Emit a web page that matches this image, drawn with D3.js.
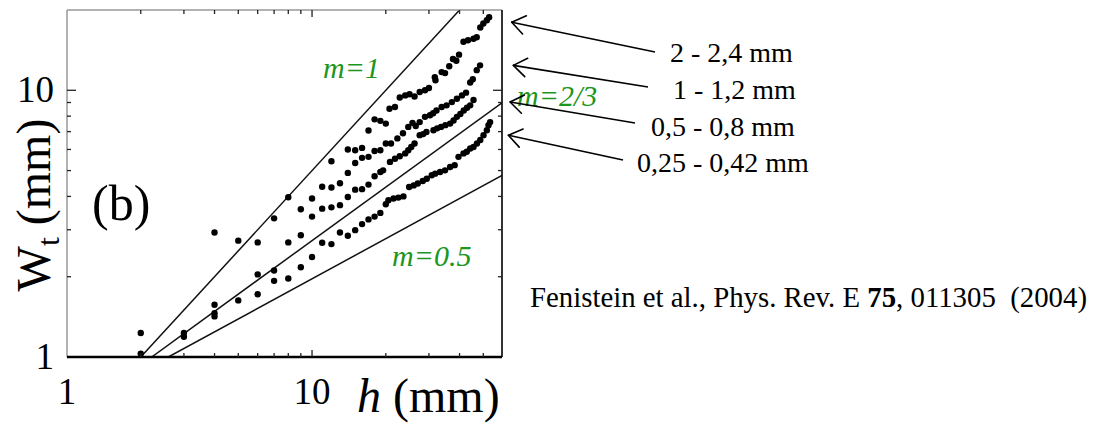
<!DOCTYPE html>
<html>
<head>
<meta charset="utf-8">
<script src="https://cdn.jsdelivr.net/npm/d3@7"></script>
<style>
  body { margin: 0; background: #fff; }
  text { font-family: "Liberation Serif", "Times New Roman", serif; }
</style>
</head>
<body>
<div id="chart"></div>
<script>
// grain sizes (legend labels)
const grainLabels = ["2 - 2,4 mm", "1 - 1,2 mm", "0,5 - 0,8 mm", "0,25 - 0,42 mm"];

// W_t (mm) vs h (mm)
const grain2mm = [
  [12, 5.42], [14, 6.0], [15, 5.96], [16, 6.08], [17, 7.07], [18, 7.78], [19, 7.68], [20, 7.5],
  [20.7, 8.53], [21.8, 8.66], [22.8, 9.4], [24, 9.57], [25, 9.66], [26.2, 9.48], [27.5, 9.85],
  [28.9, 10.0], [30, 10.2], [31.7, 11.2], [31.9, 10.9], [33.8, 11.7], [34.9, 11.6], [36.3, 12.3],
  [37.6, 13.1], [38.8, 12.9], [39.8, 13.6], [41.5, 15.2], [43.3, 15.4], [45.6, 15.6], [47, 15.8],
  [48.6, 17.2], [50, 17.8], [51.7, 18.3], [52.8, 18.8]
];
const grain1mm = [
  [2, 1.23], [4, 2.93], [5, 2.73], [6, 2.69], [7, 3.31], [8, 3.97], [9, 3.58], [10, 3.93],
  [11, 4.35], [12, 4.32], [13, 4.48], [14, 4.9], [15, 5.34], [16, 5.58], [17, 5.63], [18, 5.92],
  [19, 5.96], [20, 6.32], [21, 6.32], [22.3, 6.6], [23.5, 6.9], [24.7, 7.29], [25.7, 7.55],
  [26.5, 7.35], [27.5, 7.6], [28.9, 7.95], [30.3, 8.06], [31.2, 8.2], [32.2, 8.4], [33.8, 8.66],
  [35.4, 8.78], [37.2, 9.03], [39, 9.3], [40.9, 9.57], [42.5, 9.8], [44.2, 10.7], [45.3, 11.0],
  [47, 11.9], [48.5, 12.4]
];
const grain05mm = [
  [3, 1.23], [4, 1.57], [5, 1.63], [6, 2.04], [7, 2.11], [8, 2.69], [9, 2.86], [10, 3.36],
  [11, 3.6], [12, 3.64], [13, 3.71], [14, 3.98], [15, 4.24], [16, 4.26], [17, 4.43], [18, 4.76],
  [19, 4.94], [19.5, 5.01], [20.8, 5.39], [21.8, 5.54], [22.8, 5.66], [24, 5.8], [24.7, 5.96],
  [25.4, 6.13], [26.2, 6.32], [27.5, 6.79], [28.4, 6.85], [29.3, 6.98], [31.3, 7.08], [32.4, 7.2],
  [33.6, 7.29], [35, 7.4], [36.6, 7.5], [37.8, 7.7], [39, 7.95], [40.3, 8.15], [41.6, 8.4],
  [42.9, 8.6], [44.2, 8.78], [45.6, 9.2]
];
const grain025mm = [
  [2, 1.03], [3, 1.19], [4, 1.46], [4, 1.42], [6, 1.72], [7, 1.93], [8, 1.97], [9, 2.17],
  [10, 2.37], [11, 2.68], [12, 2.65], [13, 2.93], [14, 2.85], [15, 2.99], [16, 3.15], [17, 3.28],
  [18, 3.36], [19, 3.47], [20, 3.74], [20.5, 3.87], [21.5, 3.93], [22.5, 3.96], [23.6, 4.0],
  [24.9, 4.34], [26, 4.4], [27, 4.47], [28.3, 4.57], [29.4, 4.66], [30.8, 4.8], [31.8, 4.87],
  [33.3, 4.94], [34.9, 5.01], [36.6, 5.16], [38.2, 5.24], [39.6, 5.63], [41.5, 5.8], [42.8, 5.88],
  [44.2, 6.05], [45.6, 6.13], [47.1, 6.32], [48.6, 6.51], [50.1, 6.79], [51.7, 7.08], [52.5, 7.39],
  [53.3, 7.6]
];

// power-law guide lines W = (h / h0)^m
const slopeLabels = ["m=1", "m=2/3", "m=0.5"];
const slopes = [1, 2 / 3, 0.5];
const slopeOrigins = [2, 2.216, 2.592];

// where the arrows point (data units)
const arrowTips = [[65.3, 18.0], [66.3, 12.4], [64.3, 9.04], [63.3, 6.78]];

const xTickLabels = [1, 10];
const yTickLabels = [1, 10];
const xMinorTicks = [2, 3, 4, 5, 6, 7, 8, 9, 20, 30, 40, 50];
const yMinorTicks = [2, 3, 4, 5, 6, 7, 8, 9];

const W = 1094, H = 423;
const margin = { top: 10, right: 592, bottom: 66, left: 67 };
const width = W - margin.left - margin.right;
const height = H - margin.top - margin.bottom;
const serif = "'Liberation Serif', 'Times New Roman', serif";

const svg = d3.select("#chart")
    .append("svg")
    .attr("width", W)
    .attr("height", H)
    .attr("font-family", serif);

const g = svg.append("g")
    .attr("transform", `translate(${margin.left},${margin.top})`);

const x = d3.scaleLog().domain([1, 59.6]).range([0, width]);
const y = d3.scaleLog().domain([1, 20]).range([height, 0]);

svg.append("clipPath").attr("id", "plotclip")
  .append("rect").attr("width", width).attr("height", height);

// guide lines
slopes.forEach((m, i) => {
    const h0 = slopeOrigins[i];
    const ends = [h0, 59.6].map(h => [h, Math.pow(h / h0, m)]);
    g.append("line")
        .attr("clip-path", "url(#plotclip)")
        .attr("x1", x(ends[0][0])).attr("y1", y(ends[0][1]))
        .attr("x2", x(ends[1][0])).attr("y2", y(ends[1][1]))
        .attr("stroke", "#111")
        .attr("stroke-width", 1.5);
});

// data points
[grain2mm, grain1mm, grain05mm, grain025mm].forEach(series => {
    g.selectAll(null)
        .data(series)
        .enter()
        .append("circle")
        .attr("cx", d => x(d[0]))
        .attr("cy", d => y(d[1]))
        .attr("r", 3.2)
        .attr("fill", "#000");
});

// frame
g.append("line").attr("x1", 0).attr("x2", width).attr("y1", 0).attr("y2", 0)
    .attr("stroke", "#999").attr("stroke-width", 1.5);
g.append("line").attr("x1", 0).attr("x2", 0).attr("y1", 0).attr("y2", height)
    .attr("stroke", "#999").attr("stroke-width", 1.5);
g.append("line").attr("x1", 0).attr("x2", width).attr("y1", height).attr("y2", height)
    .attr("stroke", "#000").attr("stroke-width", 2.5);
g.append("line").attr("x1", width).attr("x2", width).attr("y1", 0).attr("y2", height)
    .attr("stroke", "#000").attr("stroke-width", 1.6);

// inward ticks on all four sides
const xt = [...xMinorTicks.map(v => [v, 4]), [10, 7]];
xt.forEach(([v, len]) => {
    g.append("line").attr("x1", x(v)).attr("x2", x(v)).attr("y1", height).attr("y2", height - len)
        .attr("stroke", "#222").attr("stroke-width", 1.3);
    g.append("line").attr("x1", x(v)).attr("x2", x(v)).attr("y1", 0).attr("y2", len)
        .attr("stroke", "#222").attr("stroke-width", 1.3);
});
const yt = [...yMinorTicks.map(v => [v, 4]), [10, 9]];
yt.forEach(([v, len]) => {
    g.append("line").attr("x1", 0).attr("x2", len).attr("y1", y(v)).attr("y2", y(v))
        .attr("stroke", "#222").attr("stroke-width", 1.3);
    g.append("line").attr("x1", width).attr("x2", width - len).attr("y1", y(v)).attr("y2", y(v))
        .attr("stroke", "#222").attr("stroke-width", 1.3);
});

// tick labels
g.selectAll(".xlab").data(xTickLabels).enter().append("text")
    .attr("x", d => x(d)).attr("y", height + 47)
    .attr("text-anchor", "middle").attr("font-size", 37).text(d => d);
g.selectAll(".ylab").data(yTickLabels).enter().append("text")
    .attr("x", -13).attr("y", d => y(d) + 12)
    .attr("text-anchor", "end").attr("font-size", 37).text(d => d);

// axis titles
const xt2 = g.append("text").attr("x", 290).attr("y", height + 55).attr("font-size", 48);
xt2.append("tspan").attr("font-style", "italic").text("h");
xt2.append("tspan").text(" (mm)");

const yt2 = svg.append("text")
    .attr("transform", "translate(50,205) rotate(-90)")
    .attr("text-anchor", "middle").attr("font-size", 48);
yt2.append("tspan").text("W");
yt2.append("tspan").attr("font-size", 32).attr("dy", 9).text("t");
yt2.append("tspan").attr("dy", -9).text(" (mm)");

// panel tag
svg.append("text").attr("x", 92).attr("y", 220).attr("font-size", 50).text("(b)");

// slope labels
const slopePos = [[323, 78], [517, 106], [392, 266]];
slopeLabels.forEach((s, i) => {
    svg.append("text").attr("x", slopePos[i][0]).attr("y", slopePos[i][1])
        .attr("font-size", 30).attr("font-style", "italic")
        .attr("fill", "#1c961c").text(s);
});

// grain-size labels and arrows
const labelPos = [[670, 62], [673, 99], [651, 136], [637, 172]];
const tails = [[655, 52], [648, 87], [635, 123], [623, 160]];
grainLabels.forEach((s, i) => {
    svg.append("text").attr("x", labelPos[i][0]).attr("y", labelPos[i][1])
        .attr("font-size", 28).text(s);
    const tx = margin.left + x(arrowTips[i][0]);
    const ty = margin.top + y(arrowTips[i][1]);
    const [sx, sy] = tails[i];
    svg.append("line").attr("x1", sx).attr("y1", sy).attr("x2", tx).attr("y2", ty)
        .attr("stroke", "#000").attr("stroke-width", 1.6);
    const ang = Math.atan2(sy - ty, sx - tx);
    [-0.62, 0.62].forEach(da => {
        svg.append("line").attr("x1", tx).attr("y1", ty)
            .attr("x2", tx + 16 * Math.cos(ang + da)).attr("y2", ty + 16 * Math.sin(ang + da))
            .attr("stroke", "#000").attr("stroke-width", 1.6).attr("stroke-linecap", "round");
    });
});

// citation
const cite = svg.append("text").attr("x", 530).attr("y", 307).attr("font-size", 28.8)
    .attr("xml:space", "preserve");
cite.append("tspan").text("Fenistein et al., Phys. Rev. E ");
cite.append("tspan").attr("font-weight", "bold").text("75");
cite.append("tspan").text(", 011305\u00a0 (2004)");
</script>
</body>
</html>
